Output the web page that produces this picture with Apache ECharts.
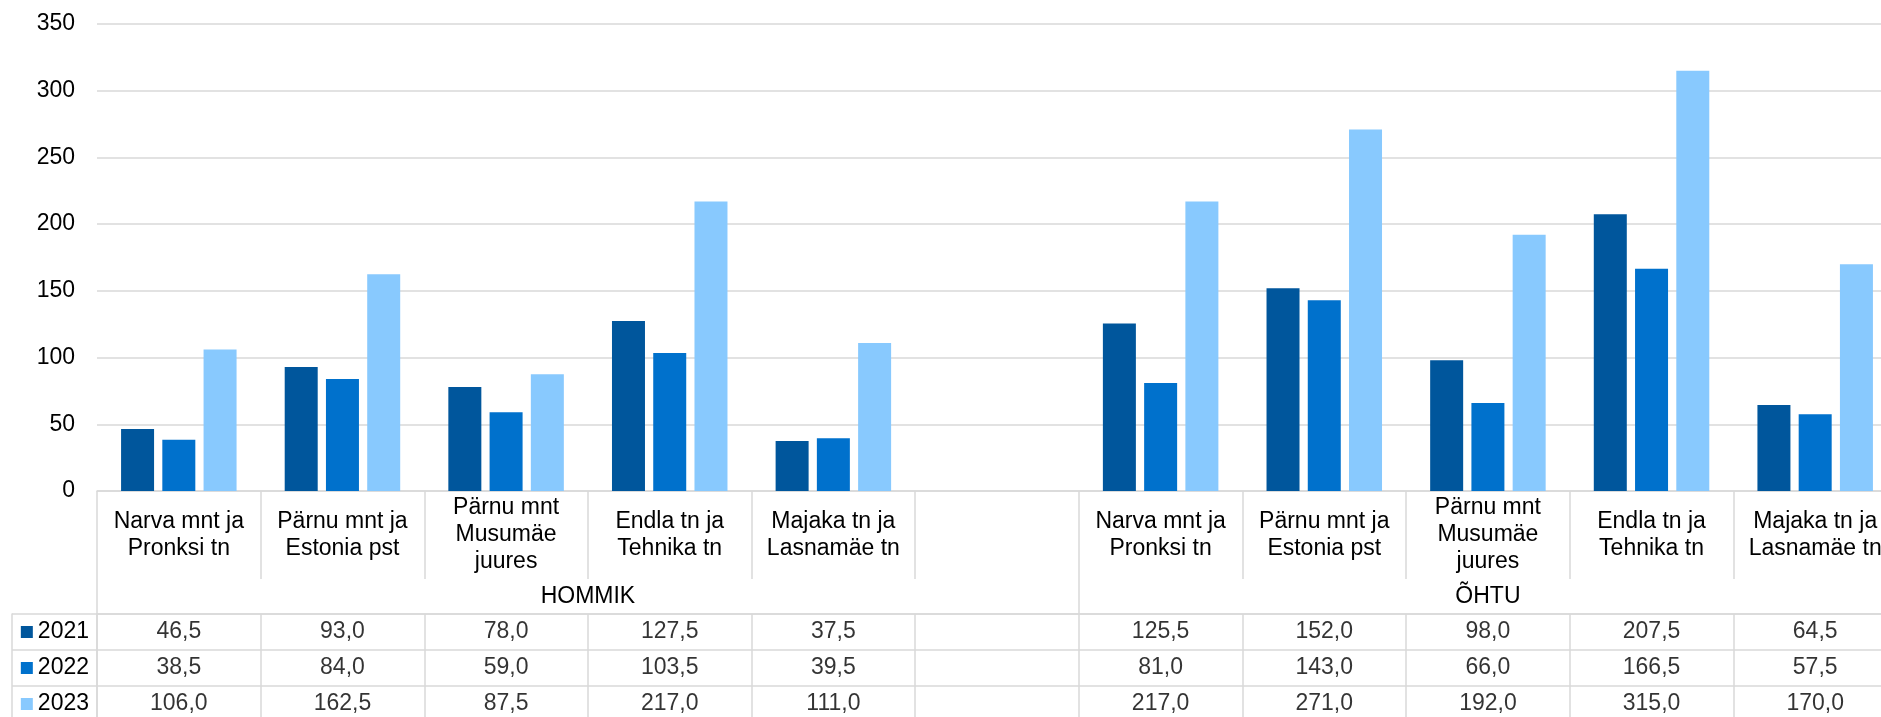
<!DOCTYPE html>
<html><head><meta charset="utf-8">
<script src="https://cdn.jsdelivr.net/npm/echarts@6/dist/echarts.min.js"></script>
<style>html,body{margin:0;padding:0;background:#fff}#c{width:1881px;height:717px}</style>
</head><body><div id="c"></div>
<script>
// ---- data ----
const streets = ['Narva mnt ja\nPronksi tn', 'Pärnu mnt ja\nEstonia pst', 'Pärnu mnt\nMusumäe\njuures', 'Endla tn ja\nTehnika tn', 'Majaka tn ja\nLasnamäe tn'];
const categories = [...streets, '', ...streets];
const groups = ['HOMMIK', 'ÕHTU'];
const groupSizes = [6, 5];
const years = ['2021', '2022', '2023'];
const v2021 = [46.5, 93.0, 78.0, 127.5, 37.5, null, 125.5, 152.0, 98.0, 207.5, 64.5];
const v2022 = [38.5, 84.0, 59.0, 103.5, 39.5, null, 81.0, 143.0, 66.0, 166.5, 57.5];
const v2023 = [106.0, 162.5, 87.5, 217.0, 111.0, null, 217.0, 271.0, 192.0, 315.0, 170.0];
const yMin = 0, yMax = 350, yStep = 50;

// ---- build ----
const colors = ['#00569c', '#0071cc', '#88c9fe'];
const seriesValues = [v2021, v2022, v2023];
const ids = categories.map((_, i) => 'c' + i);
const FONT = "'Liberation Sans', Arial, sans-serif";
const LINE = { color: '#d9d9d9', width: 1.5 };
const fmt = v => v.toFixed(1).replace('.', ',');

const groupStarts = [], groupCenters = [];
let acc = 0;
groupSizes.forEach(s => { groupStarts.push(acc); groupCenters.push(acc + s / 2); acc += s; });

const cellData = [];
seriesValues.forEach((arr, r) => arr.forEach((v, i) => { if (v != null) cellData.push([i, r, v]); }));

const rich = { t: { fontSize: 23, fontFamily: FONT, color: '#000', padding: [0, 0, 0, 5] } };
colors.forEach((c, i) => { rich['s' + i] = { width: 12, height: 12, backgroundColor: c }; });

const chart = echarts.init(document.getElementById('c'), null, { renderer: 'canvas' });
chart.setOption({
  animation: false,
  textStyle: { fontFamily: FONT },
  grid: [
    { left: 97, width: 1800, top: 24, bottom: 226, outerBoundsMode: 'none', containLabel: false },
    { left: 97, width: 1800, top: 614, height: 108, show: true, borderColor: '#d9d9d9', borderWidth: 1.5, outerBoundsMode: 'none', containLabel: false }
  ],
  xAxis: [
    {
      type: 'category', gridIndex: 0, data: ids, position: 'bottom',
      axisLine: { lineStyle: LINE },
      axisTick: { show: true, interval: 0, length: 88, lineStyle: LINE },
      axisLabel: { interval: 0, formatter: (v, i) => categories[i], fontSize: 23, lineHeight: 27, color: '#000', margin: 44, verticalAlign: 'middle', align: 'center', hideOverlap: false },
      splitLine: { show: false }
    },
    {
      type: 'value', gridIndex: 0, min: 0, max: categories.length, position: 'bottom',
      axisLine: { show: false },
      axisTick: { show: true, customValues: groupStarts, length: 123, lineStyle: LINE },
      axisLabel: { customValues: groupCenters, formatter: v => groups[groupCenters.indexOf(v)] || '', fontSize: 23, color: '#000', margin: 106, verticalAlign: 'middle' },
      splitLine: { show: false }
    },
    {
      type: 'category', gridIndex: 1, data: ids, position: 'top',
      axisLine: { show: false }, axisTick: { show: false }, axisLabel: { show: false },
      splitLine: { show: true, interval: 0, lineStyle: LINE }
    }
  ],
  yAxis: [
    {
      type: 'value', gridIndex: 0, min: yMin, max: yMax, interval: yStep,
      axisLine: { show: false }, axisTick: { show: false },
      axisLabel: { fontSize: 23, color: '#000', margin: 22 },
      splitLine: { lineStyle: LINE }
    },
    {
      type: 'category', gridIndex: 1, data: years, inverse: true, position: 'left',
      axisLine: { show: false },
      axisTick: { show: true, interval: 0, length: 85, lineStyle: LINE },
      axisLabel: { interval: 0, margin: 8, formatter: (v, i) => `{s${i}|}{t|${v}}`, rich: rich },
      splitLine: { show: true, interval: 0, lineStyle: LINE }
    },
    {
      type: 'category', gridIndex: 1, data: years, inverse: true, position: 'left', offset: 85,
      axisLine: { show: true, lineStyle: LINE }, axisTick: { show: false }, axisLabel: { show: false }
    }
  ],
  series: [
    ...years.map((y, k) => ({
      name: y, type: 'bar', xAxisIndex: 0, yAxisIndex: 0,
      data: seriesValues[k], barWidth: 33, barGap: '25%',
      itemStyle: { color: colors[k] }
    })),
    {
      type: 'scatter', xAxisIndex: 2, yAxisIndex: 1, data: cellData, symbolSize: 0, silent: true,
      label: { show: true, position: 'inside', formatter: p => fmt(p.value[2]), fontSize: 23, color: '#000', fontFamily: FONT }
    }
  ]
});
</script></body></html>
